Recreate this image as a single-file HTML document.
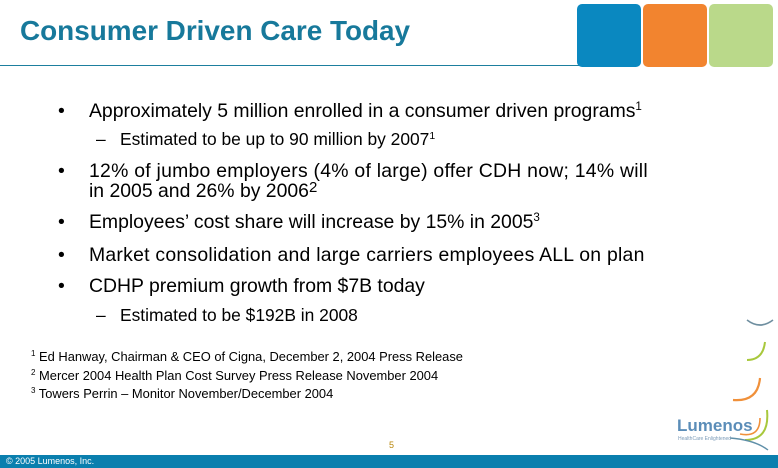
<!DOCTYPE html>
<html><head><meta charset="utf-8"><style>
body{margin:0;width:778px;height:468px;position:relative;overflow:hidden;background:#fff;font-family:"Liberation Sans",Arial,sans-serif;color:#000}
.a{position:absolute;white-space:nowrap}
.b{font-size:19.4px}
.s{font-size:17.4px}
.f{font-size:12.9px}
sup{font-size:60%;vertical-align:0;position:relative;top:-0.6em}
</style></head><body>
<div class="a" style="left:20px;top:15px;font-size:27.9px;font-weight:bold;color:#17799b">Consumer Driven Care Today</div>
<div class="a" style="left:0;top:65px;width:580px;height:1px;background:#1d7f9e"></div>
<div class="a" style="left:577px;top:4px;width:64px;height:63px;background:#0a88c0;border-radius:5px"></div>
<div class="a" style="left:643px;top:4px;width:64px;height:63px;background:#f2842f;border-radius:5px"></div>
<div class="a" style="left:709px;top:4px;width:64px;height:63px;background:#bad98a;border-radius:5px"></div>

<div class="a b" style="left:58px;top:100px">•</div>
<div class="a b" style="left:89px;top:100px">Approximately 5 million enrolled in a consumer driven programs<sup>1</sup></div>
<div class="a s" style="left:96px;top:129px">–</div>
<div class="a s" style="left:120px;top:129px">Estimated to be up to 90 million by 2007<sup>1</sup></div>
<div class="a b" style="left:58px;top:160px">•</div>
<div class="a b" style="left:89px;top:160px;letter-spacing:0.25px">12% of jumbo employers (4% of large) offer CDH now; 14% will</div>
<div class="a b" style="left:89px;top:180px">in 2005 and 26% by 2006<span style="font-size:15px;position:relative;top:-5px">2</span></div>
<div class="a b" style="left:58px;top:211px">•</div>
<div class="a b" style="left:89px;top:211px">Employees’ cost share will increase by 15% in 2005<sup>3</sup></div>
<div class="a b" style="left:58px;top:244px">•</div>
<div class="a b" style="left:89px;top:244px;letter-spacing:0.25px">Market consolidation and large carriers employees ALL on plan</div>
<div class="a b" style="left:58px;top:275px">•</div>
<div class="a b" style="left:89px;top:275px">CDHP premium growth from $7B today</div>
<div class="a s" style="left:96px;top:305px">–</div>
<div class="a s" style="left:120px;top:305px">Estimated to be $192B in 2008</div>

<div class="a f" style="left:31px;top:349px"><sup style="font-size:8px">1</sup> Ed Hanway, Chairman &amp; CEO of Cigna, December 2, 2004 Press Release</div>
<div class="a f" style="left:31px;top:368px"><sup style="font-size:8px">2</sup> Mercer 2004 Health Plan Cost Survey Press Release November 2004</div>
<div class="a f" style="left:31px;top:386px"><sup style="font-size:8px">3</sup> Towers Perrin – Monitor November/December 2004</div>

<div class="a" style="left:389px;top:440px;font-size:9px;color:#b8860b">5</div>

<svg class="a" style="left:660px;top:290px" width="118" height="170">
<path d="M87 30 Q100 40 113 30" stroke="#6f8fa0" stroke-width="1.6" fill="none"/>
<path d="M87 70 Q103 70 105 52" stroke="#a8c83c" stroke-width="2" fill="none"/>
<path d="M73 110 Q98 112 100 88" stroke="#f0903a" stroke-width="2.2" fill="none"/>
<path d="M85 150 Q110 150 107 120" stroke="#a8c83c" stroke-width="2" fill="none"/>
<path d="M80 144 Q100 148 100 128" stroke="#f0903a" stroke-width="1.6" fill="none"/>
<path d="M70 148 Q95 150 108 160" stroke="#5f8fa8" stroke-width="1.4" fill="none"/>
</svg>
<div class="a" style="left:677px;top:416px;font-size:17px;font-weight:bold;color:#5b8db8">Lumenos</div>
<div class="a" style="left:678px;top:436px;font-size:5px;color:#7b9bb8">HealthCare Enlightened</div>

<div class="a" style="left:0;top:455px;width:778px;height:13px;background:#0a7fae"></div>
<div class="a" style="left:6px;top:456px;font-size:9px;color:#fff">© 2005 Lumenos, Inc.</div>
</body></html>
